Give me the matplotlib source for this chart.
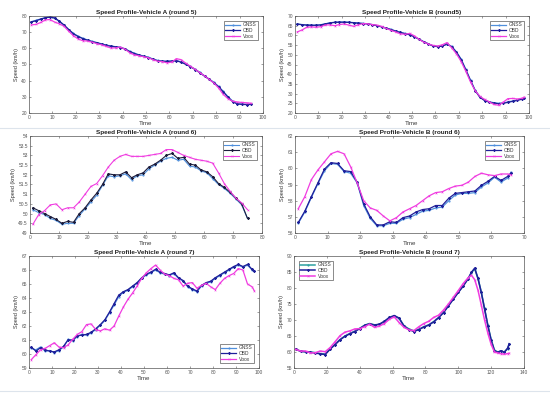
import matplotlib
matplotlib.use("Agg")
import matplotlib.pyplot as plt
from matplotlib.lines import Line2D

plt.rcParams["font.family"] = ["Liberation Sans", "DejaVu Sans"]

# ─── Data (time in s, speed in km/h) ─────────────────────────────────────
# Vehicle A, round 5
T_A5 = list(range(1, 96, 2))
GNSS_A5 = [76.5, 77.3, 78.2, 79.0, 79.4, 78.6, 76.5, 74.2, 71.5, 69.2,
           67.5, 66.2, 65.2, 64.3, 63.6, 62.8, 62.0, 61.5, 61.0, 60.6,
           59.8, 58.2, 57.0, 56.0, 55.2, 54.5, 53.4, 52.5, 52.1, 52.0,
           52.2, 52.5, 51.6, 50.3, 48.8, 47.1, 45.1, 43.0, 41.0, 39.0,
           36.5, 33.4, 30.2, 27.4, 25.8, 25.5, 25.4, 25.5]
OBD_A5 = [76.3, 77.1, 78.0, 78.9, 79.3, 78.8, 76.8, 74.4, 71.6, 69.0,
          67.3, 66.0, 65.0, 64.1, 63.4, 62.6, 61.8, 61.3, 60.9, 60.5,
          59.6, 58.0, 56.8, 55.8, 55.0, 54.3, 53.2, 52.3, 52.0, 51.9,
          52.1, 52.3, 51.4, 50.1, 48.6, 46.9, 44.9, 42.8, 40.8, 38.7,
          36.2, 33.1, 29.8, 27.0, 25.6, 25.3, 25.2, 25.3]
VBOX_A5 = [74.5, 74.8, 76.0, 77.6, 77.8, 76.2, 75.2, 73.6, 70.5, 67.8,
           65.8, 64.7, 64.5, 63.8, 62.9, 62.2, 61.2, 60.2, 60.3, 60.8,
           59.5, 57.3, 56.0, 55.4, 54.8, 54.2, 53.0, 52.0, 51.8, 51.0,
           51.5, 53.6, 53.0, 50.8, 48.9, 47.0, 45.0, 43.0, 40.8, 38.6,
           35.5, 31.5, 28.9, 27.3, 26.8, 26.5, 26.3, 26.0]

# Vehicle B, round 5
T_B5 = list(range(1, 98, 2)) + [98]
GNSS_B5 = [65.9, 65.6, 65.4, 65.3, 65.3, 65.5, 66.0, 66.5, 66.8, 66.9,
           66.9, 66.8, 66.6, 66.4, 66.2, 66.0, 65.6, 65.1, 64.5, 63.8,
           63.1, 62.3, 61.6, 61.0, 60.4, 59.4, 58.1, 56.8, 55.7, 54.6,
           54.3, 54.6, 55.6, 54.3, 51.5, 47.8, 42.5, 37.0, 31.8, 28.3,
           26.6, 25.8, 25.3, 25.0, 25.2, 25.7, 26.2, 26.7, 27.3, 27.7]
OBD_B5 = [65.8, 65.5, 65.3, 65.2, 65.2, 65.4, 65.9, 66.4, 66.7, 66.8,
          66.8, 66.7, 66.5, 66.3, 66.1, 65.9, 65.5, 65.0, 64.4, 63.7,
          63.0, 62.2, 61.5, 60.9, 60.3, 59.3, 58.0, 56.7, 55.6, 54.5,
          54.2, 54.5, 55.5, 54.1, 51.3, 47.5, 42.2, 36.7, 31.5, 28.1,
          26.4, 25.6, 25.1, 24.8, 25.0, 25.5, 26.0, 26.5, 27.1, 27.5]
VBOX_B5 = [61.8, 62.8, 64.2, 64.4, 64.2, 64.5, 65.4, 65.4, 65.0, 65.6,
           65.9, 65.3, 64.7, 65.4, 66.1, 66.0, 65.6, 65.3, 64.6, 63.6,
           62.6, 61.8, 60.8, 60.6, 61.0, 59.8, 58.0, 56.5, 55.6, 54.8,
           54.5, 55.2, 56.3, 53.5, 50.5, 46.5, 41.5, 36.0, 31.5, 28.6,
           27.0, 25.8, 24.4, 24.0, 25.6, 27.4, 27.5, 27.2, 27.6, 28.2]

# Vehicle A, round 6
T_A6 = list(range(1, 76, 2))
GNSS_A6 = [50.2, 50.05, 49.95, 49.75, 49.65, 49.45, 49.5, 49.5, 49.9, 50.25,
           50.6, 50.95, 51.45, 51.95, 51.9, 51.95, 52.05, 51.75, 51.95, 52.0,
           52.3, 52.5, 52.7, 52.85, 52.9, 52.75, 52.8, 52.45, 52.4, 52.2,
           52.1, 51.8, 51.5, 51.3, 51.05, 50.75, 50.45, 49.75]
OBD_A6 = [50.3, 50.15, 50.0, 49.85, 49.7, 49.5, 49.6, 49.55, 50.0, 50.3,
          50.7, 51.05, 51.5, 52.05, 52.0, 52.0, 52.15, 51.85, 52.0, 52.1,
          52.4, 52.55, 52.75, 53.0, 53.1, 52.85, 52.9, 52.55, 52.5, 52.25,
          52.15, 51.9, 51.55, 51.35, 51.1, 50.8, 50.5, 49.75]
VBOX_A6 = [49.45, 49.95, 50.15, 50.45, 50.5, 50.2, 50.3, 50.3, 50.6, 51.0,
           51.4, 51.55, 51.95, 52.4, 52.75, 52.95, 53.05, 52.95, 52.95, 52.95,
           53.0, 53.05, 53.1, 53.3, 53.3, 53.15, 53.0, 52.9, 52.8, 52.75,
           52.7, 52.6, 52.1, 51.55, 51.15, 50.8, 50.55, 50.2]

# Vehicle B, round 6
T_B6 = list(range(1, 66, 2)) + [66]
GNSS_B6 = [56.6, 57.3, 58.2, 59.05, 59.85, 60.3, 60.25, 59.8, 59.7, 59.1,
           57.7, 56.9, 56.45, 56.45, 56.6, 56.6, 56.85, 56.95, 57.15, 57.35,
           57.4, 57.55, 57.6, 58.0, 58.35, 58.45, 58.45, 58.5, 58.85, 59.1,
           59.45, 59.15, 59.4, 59.75]
OBD_B6 = [56.65, 57.35, 58.25, 59.1, 59.95, 60.35, 60.3, 59.85, 59.8, 59.15,
          57.8, 57.0, 56.5, 56.5, 56.7, 56.65, 56.95, 57.05, 57.3, 57.45,
          57.5, 57.7, 57.7, 58.15, 58.45, 58.5, 58.55, 58.6, 58.95, 59.2,
          59.5, 59.25, 59.5, 59.7]
VBOX_B6 = [57.5, 58.25, 59.3, 59.9, 60.4, 60.9, 61.05, 60.9, 60.1, 59.1,
           58.0, 57.55, 57.4, 57.05, 56.75, 56.95, 57.3, 57.5, 57.7, 58.0,
           58.3, 58.5, 58.55, 58.75, 58.9, 58.95, 59.15, 59.5, 59.7, 59.6,
           59.55, 59.65, 59.65, 59.6]

# Vehicle A, round 7
T_A7 = list(range(1, 98, 2)) + [98]
GNSS_A7 = [60.4, 60.3, 60.5, 60.2, 60.25, 60.1, 60.25, 60.5, 61.05, 60.95,
           61.25, 61.4, 61.35, 61.5, 61.75, 62.05, 62.4, 62.95, 63.5, 64.1,
           64.4, 64.55, 64.8, 65.05, 65.4, 65.65, 65.8, 66.0, 65.8, 65.7,
           65.6, 65.75, 65.4, 65.2, 64.8, 64.6, 64.45, 64.85, 65.05, 65.15,
           65.4, 65.6, 65.8, 66.0, 66.2, 66.35, 66.2, 66.35, 66.0, 65.9]
OBD_A7 = [60.5, 60.2, 60.45, 60.3, 60.2, 60.15, 60.3, 60.55, 61.0, 61.0,
          61.3, 61.35, 61.4, 61.55, 61.8, 62.1, 62.45, 63.0, 63.6, 64.2,
          64.45, 64.6, 64.85, 65.1, 65.45, 65.7, 65.85, 66.05, 65.85, 65.75,
          65.65, 65.8, 65.45, 65.25, 64.85, 64.65, 64.5, 64.9, 65.1, 65.2,
          65.45, 65.65, 65.85, 66.05, 66.25, 66.4, 66.25, 66.4, 66.05, 65.95]
VBOX_A7 = [59.6, 59.95, 60.3, 60.4, 60.6, 60.8, 60.5, 60.45, 60.65, 61.05,
           61.4, 61.6, 62.1, 62.15, 61.75, 61.65, 61.8, 61.7, 62.0, 62.7,
           63.35, 63.9, 64.35, 64.85, 65.4, 65.8, 66.1, 66.35, 66.0, 65.7,
           65.6, 65.4, 65.3, 64.85, 65.05, 65.1, 64.7, 64.9, 65.05, 64.8,
           64.6, 65.05, 65.4, 65.6, 65.75, 66.1, 66.0, 65.0, 64.8, 64.5]

# Vehicle B, round 7
T_B7 = list(range(1, 107, 3)) + list(range(108, 131, 2)) + [131]
GNSS_B7 = [60.8, 60.3, 60.0, 60.0, 59.8, 59.5, 59.4, 61.0, 62.4, 63.9,
           65.0, 65.8, 66.5, 67.4, 68.4, 68.9, 68.5, 68.6, 69.5, 70.6,
           71.2, 70.5, 68.2, 67.2, 66.6, 67.1, 67.9, 68.5, 69.5, 70.8,
           72.4, 74.5, 76.6, 78.7, 80.7, 83.0, 84.8, 86.0, 82.9, 78.8,
           73.6, 68.4, 63.9, 60.6, 60.0, 60.3, 60.0, 61.0, 62.4]
OBD_B7 = [60.9, 60.2, 60.1, 59.9, 59.7, 59.4, 59.2, 60.9, 62.3, 63.8,
          64.9, 65.7, 66.4, 67.3, 68.3, 68.8, 68.4, 68.7, 69.6, 70.8,
          71.4, 70.6, 68.0, 67.0, 66.4, 67.0, 67.8, 68.4, 69.4, 70.7,
          72.3, 74.4, 76.5, 78.6, 80.6, 82.9, 84.9, 86.2, 83.0, 78.6,
          73.4, 68.2, 63.7, 60.4, 59.9, 60.4, 59.9, 61.2, 62.6]
VBOX_B7 = [60.8, 60.3, 60.3, 59.7, 59.8, 60.3, 60.1, 61.4, 63.2, 65.1,
           66.2, 66.6, 67.2, 67.3, 67.9, 68.7, 67.7, 68.1, 68.9, 70.2,
           71.0, 69.2, 67.7, 66.9, 66.7, 67.9, 68.9, 69.6, 70.8, 71.5,
           73.1, 75.0, 77.1, 79.2, 81.4, 83.2, 84.0, 82.6, 79.3, 74.7,
           70.0, 65.9, 62.4, 60.0, 59.7, 59.5, 59.3, 59.5, 59.6]

# ─── Style ────────────────────────────────────────────────────────────────
C_GNSS = "#4f8fdc"
C_OBD = "#1f1f9a"
C_VBOX = "#f03ce0"
TXT = "#3a3a3a"

W, H = 550, 393


def box(left, top, right, bottom):
    return [left / W, 1 - bottom / H, (right - left) / W, (bottom - top) / H]


def draw_panel(ax, t, gnss, obd, vbox, title, xmax, xstep, ylim, ystep,
               loc, gnss_color=C_GNSS, obd_color=C_OBD, lw=0.9):
    ax.plot(t, gnss, color=gnss_color, lw=lw, marker=".", ms=1.1, label="GNSS")
    ax.plot(t, obd, color=obd_color, lw=lw, marker="*", ms=1.3, label="OBD")
    ax.plot(t, vbox, color=C_VBOX, lw=lw, marker="x", ms=1.2, mew=0.4, label="Vbox")

    ax.set_xlim(0, xmax)
    ax.set_ylim(*ylim)
    n = int(round(xmax / xstep))
    ax.set_xticks([i * xstep for i in range(n + 1)])
    m = int(round((ylim[1] - ylim[0]) / ystep))
    yt = [ylim[0] + i * ystep for i in range(m + 1)]
    ax.set_yticks(yt)
    ax.set_yticklabels([f"{v:g}" for v in yt])

    ax.set_title(title, fontsize=4.6, fontweight="bold", color="#222222", pad=1.5)
    ax.set_xlabel("Time", fontsize=4.4, color=TXT, labelpad=1)
    ax.set_ylabel("Speed (km/h)", fontsize=4.0, color=TXT, labelpad=1.5)
    ax.tick_params(direction="in", length=1.5, width=0.4, labelsize=3.5,
                   colors="#555555", top=True, right=True, pad=1.5)
    for s in ax.spines.values():
        s.set_linewidth(0.5)
        s.set_color("#555555")

    leg = ax.legend(loc=loc, fontsize=3.5, frameon=True, fancybox=False,
                    handlelength=3.0, borderpad=0.3, labelspacing=0.15,
                    handletextpad=0.6, borderaxespad=1.0)
    leg.get_frame().set_edgecolor("#333333")
    leg.get_frame().set_linewidth(0.5)
    for txt in leg.get_texts():
        txt.set_color(TXT)


fig = plt.figure(figsize=(W / 100, H / 100), dpi=100)

ax1 = fig.add_axes(box(29, 16, 263, 113))
draw_panel(ax1, T_A5, GNSS_A5, OBD_A5, VBOX_A5,
           "Speed Profile-Vehicle A (round 5)", 100, 10, (20, 80), 10, "upper right")

ax2 = fig.add_axes(box(295, 16, 529, 113))
draw_panel(ax2, T_B5, GNSS_B5, OBD_B5, VBOX_B5,
           "Speed Profile-Vehicle B (round5)", 100, 10, (20, 70), 5, "upper right")

ax3 = fig.add_axes(box(30, 136, 262, 233))
draw_panel(ax3, T_A6, GNSS_A6, OBD_A6, VBOX_A6,
           "Speed Profile-Vehicle A (round 6)", 80, 10, (49, 54), 0.5, "upper right",
           obd_color="#1c1c3c", lw=0.8)

ax4 = fig.add_axes(box(295, 136, 524, 233))
draw_panel(ax4, T_B6, GNSS_B6, OBD_B6, VBOX_B6,
           "Speed Profile-Vehicle B (round 6)", 70, 10, (56, 62), 1, "upper right")

ax5 = fig.add_axes(box(29, 256, 259, 368))
draw_panel(ax5, T_A7, GNSS_A7, OBD_A7, VBOX_A7,
           "Speed Profile-Vehicle A (round 7)", 100, 10, (59, 67), 1, "lower right")

ax6 = fig.add_axes(box(294, 256, 524, 368))
draw_panel(ax6, T_B7, GNSS_B7, OBD_B7, VBOX_B7,
           "Speed Profile-Vehicle B (round 7)", 140, 20, (55, 90), 5, "upper left",
           gnss_color="#2ca0a0", lw=1.1)

# faint separators from the original composite
for yy in (128, 391):
    fig.add_artist(Line2D([0, 1], [1 - yy / H] * 2, color="#dde4ec", lw=0.8))

fig.savefig("out.png", dpi=100)
